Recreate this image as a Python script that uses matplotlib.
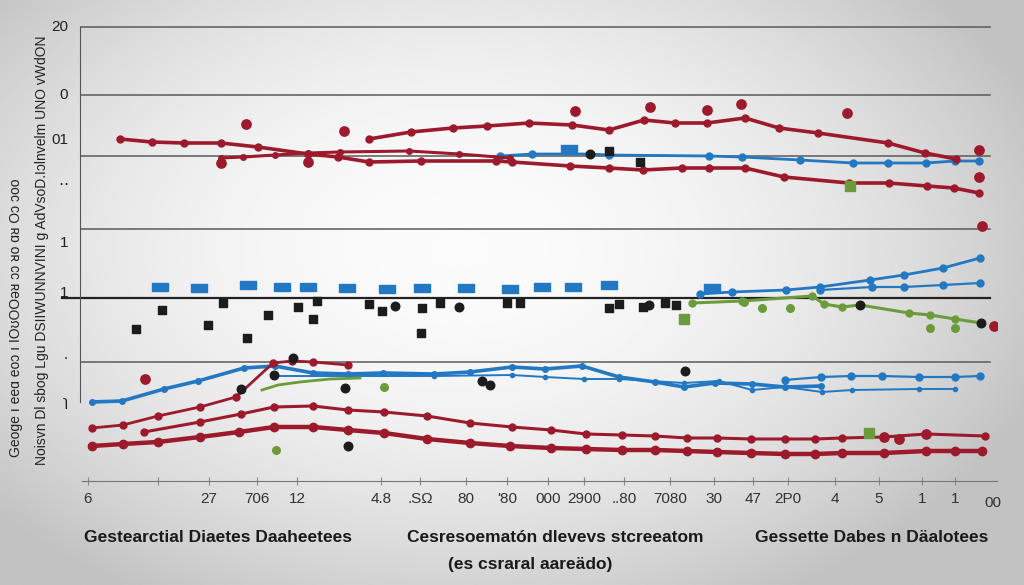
import numpy as np
import matplotlib
matplotlib.use("Agg")
import matplotlib.pyplot as plt

plt.rcParams["font.family"] = ["Liberation Sans", "DejaVu Sans"]

# --- data (x: 0-92, y: 0-92 arbitrary units) ---
red_a_x = [4.0, 7.2, 10.4, 14.1, 17.8, 22.8, 25.8, 28.9, 34.1, 41.6, 43.2, 49.0, 52.9, 56.3, 60.2,
           62.9, 66.5, 70.4, 76.9, 80.9, 84.7, 87.4, 89.9]
red_a_y = [68.4, 67.8, 67.6, 67.6, 66.8, 65.4, 64.8, 63.8, 64.0, 64.0, 63.8, 63.0, 62.6, 62.2, 62.6,
           62.6, 62.6, 60.8, 59.6, 59.6, 59.0, 58.6, 57.6]
red_b_x = [14.1, 16.3, 19.5, 22.8, 26.0, 32.9, 37.9, 43.0]
red_b_y = [64.6, 64.8, 65.2, 65.6, 65.8, 66.0, 65.4, 64.6]
red_c_x = [28.9, 33.1, 37.3, 40.7, 44.9, 49.2, 52.9, 56.4, 59.5, 62.7, 66.5, 69.9, 73.8, 80.8, 84.5, 87.6]
red_c_y = [68.4, 69.8, 70.6, 71.0, 71.6, 71.2, 70.2, 72.2, 71.6, 71.6, 72.6, 70.6, 69.6, 67.6, 65.6, 64.4]

red_low1_x = [1.2, 4.3, 7.8, 12.0, 15.6, 19.3, 21.2, 23.3, 26.8]
red_low1_y = [10.6, 11.2, 13.0, 14.8, 16.8, 23.6, 24.0, 23.8, 23.2]
red_low2_x = [6.4, 12.0, 16.1, 19.4, 23.3, 26.8, 30.4, 34.7, 39.0, 43.2, 47.1, 50.6, 54.2, 57.5, 60.7,
              63.7, 67.1, 70.5, 73.5, 76.2, 80.4, 84.6, 90.5]
red_low2_y = [9.8, 11.8, 13.4, 14.8, 15.0, 14.2, 13.8, 13.0, 11.6, 10.8, 10.2, 9.4, 9.2, 9.0, 8.6,
              8.6, 8.4, 8.4, 8.4, 8.6, 8.8, 9.4, 9.0]
red_low3_x = [1.2, 4.3, 7.8, 12.0, 15.9, 19.4, 23.3, 26.8, 30.4, 34.7, 39.0, 43.0, 47.1, 50.6, 54.2,
              57.5, 60.7, 63.7, 67.1, 70.5, 73.5, 76.2, 80.4, 84.6, 87.5, 90.2]
red_low3_y = [7.0, 7.4, 7.8, 8.8, 9.8, 10.8, 10.8, 10.2, 9.6, 8.4, 7.6, 7.0, 6.6, 6.4, 6.2,
              6.2, 6.0, 5.8, 5.6, 5.4, 5.4, 5.6, 5.6, 6.0, 6.0, 6.0]
red_dots_x = [16.6, 26.4, 49.5, 57.0, 62.7, 66.1, 76.7, 89.9, 89.9, 90.2, 14.1, 22.8, 91.4, 6.5, 80.4, 81.9, 84.6]
red_dots_y = [71.4, 70.0, 74.0, 74.8, 74.2, 75.4, 73.6, 66.2, 60.8, 51.0, 63.6, 63.8, 31.0, 20.4, 8.8, 8.4, 9.4]

blue_top_x = [42.0, 45.2, 51.0, 52.9, 62.9, 66.2, 72.0, 77.3, 80.8, 84.6, 87.5, 89.9]
blue_top_y = [65.0, 65.4, 65.4, 65.2, 65.0, 64.8, 64.2, 63.6, 63.6, 63.6, 64.0, 64.0]
blue_rect_x = [8.0, 11.9, 16.8, 20.2, 22.8, 26.7, 30.7, 34.2, 38.6, 43.0, 46.2, 49.3, 52.9, 63.2, 48.9]
blue_rect_y = [38.8, 38.6, 39.2, 38.8, 38.8, 38.6, 38.4, 38.6, 38.6, 38.4, 38.8, 38.8, 39.2, 38.6, 66.4]
blue_mid1_x = [62.0, 65.2, 70.6, 74.0, 79.0, 82.4, 86.3, 90.0]
blue_mid1_y = [37.4, 37.8, 38.2, 38.8, 40.2, 41.2, 42.6, 44.6]
blue_mid2_x = [74.0, 79.2, 82.4, 86.3, 90.0]
blue_mid2_y = [38.2, 38.8, 38.8, 39.2, 39.6]
blue_low1_x = [1.2, 4.2, 8.4, 11.8, 16.4, 19.5, 23.3, 26.8, 30.3, 35.4, 39.0, 43.2, 46.5, 50.2, 53.9,
               57.5, 60.4, 63.5, 67.2, 70.5, 74.1]
blue_low1_y = [15.8, 16.0, 18.4, 20.0, 22.6, 23.0, 21.6, 21.4, 21.6, 21.4, 21.8, 22.8, 22.4, 23.0, 20.8,
               19.8, 18.8, 19.6, 19.4, 18.8, 19.0]
blue_low2_x = [19.5, 26.8, 35.4, 43.2, 46.5, 50.4, 53.9, 60.4, 63.9, 67.2, 70.5, 74.2, 77.2, 83.9, 87.5]
blue_low2_y = [21.0, 21.0, 21.0, 21.2, 20.8, 20.4, 20.4, 19.6, 20.0, 18.2, 18.8, 17.8, 18.2, 18.4, 18.4]
blue_low3_x = [70.5, 74.1, 77.1, 80.2, 83.9, 87.5, 90.0]
blue_low3_y = [20.2, 20.8, 21.0, 21.0, 20.8, 20.8, 21.0]

green_x = [61.2, 66.2, 73.2, 74.4, 76.2, 78.0, 82.9, 85.0, 87.5, 90.1]
green_y = [35.6, 36.0, 37.0, 35.4, 34.8, 35.2, 33.6, 33.2, 32.4, 31.6]
green_low_x = [18.2, 19.8, 22.0, 25.0, 28.0]
green_low_y = [18.2, 19.2, 19.8, 20.4, 20.6]
green_dots_x = [85.0, 87.5, 68.2, 66.4, 71.0, 30.4, 19.6]
green_dots_y = [30.6, 30.6, 34.6, 35.8, 34.6, 18.8, 6.2]
green_sq_x = [60.4, 77.0, 78.9]
green_sq_y = [32.4, 59.0, 9.6]

black_sq_x = [5.6, 8.2, 12.8, 14.3, 16.7, 18.8, 21.8, 23.7, 23.3, 28.9, 30.2, 34.1, 34.2, 36.0, 42.7,
              44.0, 52.9, 53.9, 56.3, 58.5, 59.6, 52.9, 56.0]
black_sq_y = [30.4, 34.2, 31.2, 35.6, 28.6, 33.2, 34.8, 36.0, 32.4, 35.4, 34.0, 29.6, 34.6, 35.6, 35.6,
              35.6, 34.6, 35.4, 34.8, 35.6, 35.2, 66.0, 63.8]
black_dot_x = [31.5, 37.9, 56.9, 78.0, 90.1, 51.0, 16.1, 19.4, 21.3, 26.5, 40.2, 41.0, 60.5, 26.8]
black_dot_y = [35.0, 34.8, 35.2, 35.2, 31.6, 65.4, 18.4, 21.2, 24.6, 18.6, 20.0, 19.2, 22.0, 7.0]

grid_y = [90.8, 77.2, 65.0, 50.4, 23.8]
base_y = 36.6
ytick_vals = [90.8, 77.2, 68.2, 60.0, 47.6, 37.6, 25.2, 15.8]
ytick_labels = ["20", "0", "01", "‥", "1", "1", ".", "ɿ"]

xtick_vals = [0.8, 7.8, 12.9, 17.7, 21.7, 30.1, 34.0, 38.6, 42.7, 46.8, 50.4, 54.4, 59.0, 63.4,
              67.3, 70.8, 75.5, 79.9, 84.2, 87.5, 91.3]
xtick_labels = ["6", "", "27", "706", "12", "4.8", ".SΩ", "80", "'80", "000", "2900", "..80", "7080",
                "30", "47", "2P0", "4", "5", "1", "1", "00"]

group_titles = ["Gestearctial Diaetes Daaheetees", "Cesresoematón dlevevs stcreeatom",
                "Gessette Dabes n Däalotees"]
group_centers = [218, 555, 872]
subtitle = "(es csraral aareädo)"
ylabel_1 = "Noisvn Dl sbog Lgu DSIIWUNNVINI g AdVsoD.Iɔlnvelm UNO vWdON"
ylabel_2 = "Geoge ı eeɑ eoɔ ı IOʊOOəᴚ ɔɔ ᴚo ɑᴚ Oɔ ɔoo"

RED = "#9c1a2b"
BLUE = "#2278c2"
GREEN = "#6c9b3c"
BLACK = "#1c1c1c"

fig = plt.figure(figsize=(10.24, 5.85), dpi=100)

# soft grey vignette background
bg = fig.add_axes([0, 0, 1, 1], zorder=-10)
gx, gy = np.meshgrid(np.linspace(-1, 1, 400), np.linspace(-1, 1, 240))
r2 = ((gx + 0.1) / 1.05) ** 2 + ((gy + 0.15) / 1.2) ** 2
shade = np.clip(0.985 - 0.17 * r2, 0.76, 1)
bg.imshow(shade, cmap="gray", vmin=0, vmax=1, aspect="auto", extent=[0, 1, 0, 1])
bg.axis("off")

ax = fig.add_axes([80 / 1024, 104 / 585, 917 / 1024, 461 / 585])
ax.set_facecolor("none")
ax.set_xlim(0, 91.7)
ax.set_ylim(0, 92.2)

for gy_ in grid_y:
    ax.axhline(gy_, xmin=0, xmax=0.992, color="#5a5a5a", lw=1.1, zorder=1)
ax.plot([-1.8, 91.0], [base_y, base_y], color="#222222", lw=1.6, zorder=1, clip_on=False)

rect_marker = [(-1, -0.5), (1, -0.5), (1, 0.5), (-1, 0.5), (-1, -0.5)]

# red trend lines
ax.plot(red_a_x, red_a_y, color=RED, lw=2.6, marker="o", ms=5, zorder=4)
ax.plot(red_b_x, red_b_y, color=RED, lw=2.2, marker="o", ms=4, zorder=4)
ax.plot(red_c_x, red_c_y, color=RED, lw=2.6, marker="o", ms=5, zorder=4)
ax.plot(red_low1_x, red_low1_y, color=RED, lw=2.0, marker="o", ms=5, zorder=4)
ax.plot(red_low2_x, red_low2_y, color=RED, lw=2.2, marker="o", ms=5, zorder=4)
ax.plot(red_low3_x, red_low3_y, color=RED, lw=3.2, marker="o", ms=6, zorder=4)
ax.scatter(red_dots_x, red_dots_y, s=45, color=RED, zorder=5)

# blue lines
ax.plot(blue_top_x, blue_top_y, color=BLUE, lw=2.0, marker="o", ms=5, zorder=3)
ax.plot(blue_mid1_x, blue_mid1_y, color=BLUE, lw=2.0, marker="o", ms=5, zorder=3)
ax.plot(blue_mid2_x, blue_mid2_y, color=BLUE, lw=1.6, marker="o", ms=5, zorder=3)
ax.plot(blue_low1_x, blue_low1_y, color=BLUE, lw=2.6, marker="o", ms=4, zorder=3)
ax.plot(blue_low2_x, blue_low2_y, color=BLUE, lw=1.4, marker="o", ms=3, zorder=3)
ax.plot(blue_low3_x, blue_low3_y, color=BLUE, lw=1.6, marker="o", ms=5, zorder=3)
ax.scatter(blue_rect_x, blue_rect_y, marker=rect_marker, s=120, color=BLUE, zorder=3)

# green
ax.plot(green_x, green_y, color=GREEN, lw=2.2, marker="o", ms=5, zorder=3)
ax.plot(green_low_x, green_low_y, color=GREEN, lw=2.0, zorder=3)
ax.scatter(green_dots_x, green_dots_y, s=30, color=GREEN, zorder=4)
ax.scatter(green_sq_x, green_sq_y, marker="s", s=45, color=GREEN, zorder=4)

# black scatter
ax.scatter(black_sq_x, black_sq_y, marker="s", s=38, color=BLACK, zorder=5)
ax.scatter(black_dot_x, black_dot_y, s=38, color=BLACK, zorder=5)

for s in ["top", "right"]:
    ax.spines[s].set_visible(False)
ax.spines["left"].set_bounds(15.8, 90.8)
ax.spines["left"].set_color("#555555")
ax.spines["bottom"].set_bounds(0.2, 91.7)
ax.spines["bottom"].set_color("#777777")

ax.set_yticks([])
for v, lab in zip(ytick_vals, ytick_labels):
    ax.text(-1.2, v, lab, ha="right", va="center", fontsize=11, color="#222222",
            transform=ax.transData, clip_on=False)

ax.set_xticks(xtick_vals[:-1])
ax.set_xticklabels(xtick_labels[:-1], fontsize=11, color="#333333")
ax.text(xtick_vals[-1], -3.0, xtick_labels[-1], ha="center", va="top", fontsize=11,
        color="#333333", clip_on=False)
ax.tick_params(axis="x", direction="inout", length=6, color="#888888", pad=5)

for title, cx in zip(group_titles, group_centers):
    fig.text(cx / 1024, 1 - 538 / 585, title, ha="center", va="center", fontsize=12.5,
             fontweight="bold", color="#1a1a1a")
fig.text(530 / 1024, 1 - 565 / 585, subtitle, ha="center", va="center", fontsize=12.5,
         fontweight="bold", color="#1a1a1a")

fig.text(42 / 1024, 1 - 250 / 585, ylabel_1, rotation=90, ha="center", va="center",
         fontsize=10, color="#222222")
fig.text(16 / 1024, 1 - 318 / 585, ylabel_2, rotation=90, ha="center", va="center",
         fontsize=10, color="#222222")

fig.savefig("out.png", dpi=100)
